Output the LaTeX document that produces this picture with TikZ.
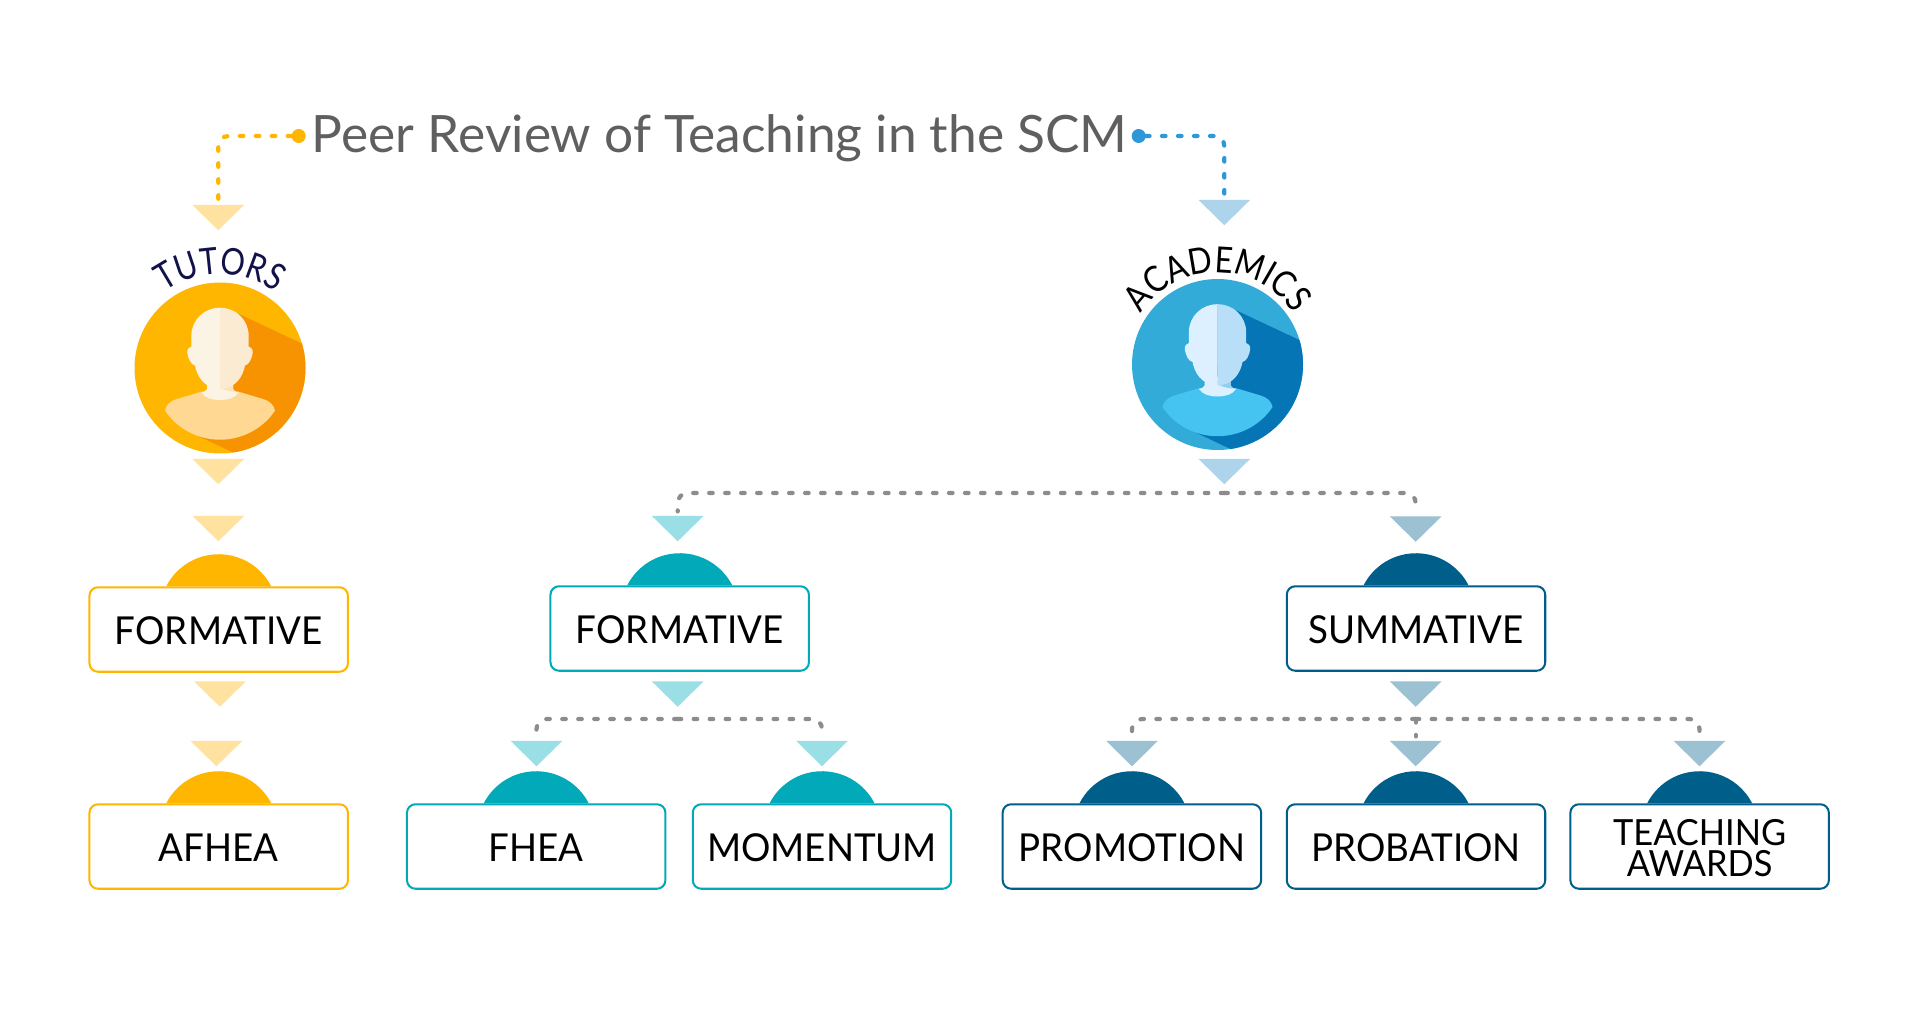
\documentclass[tikz,border=0pt]{standalone}
\usepackage{fontspec}
\setmainfont{Lato}
\newfontfamily\arcfont[FakeStretch=0.83]{Lato}
\newfontfamily\arcfontb[FakeStretch=0.87]{Lato}
\newfontfamily\boxfont[FakeStretch=0.955]{Lato}
\usetikzlibrary{decorations.text,calc}
\definecolor{ymain}{HTML}{FFB600}
\definecolor{ytri}{HTML}{FFE2A0}
\definecolor{tmain}{HTML}{02A9B8}
\definecolor{ttri}{HTML}{9ADFE5}
\definecolor{nmain}{HTML}{005F8A}
\definecolor{ntri}{HTML}{9BC1D3}
\definecolor{btri}{HTML}{AED4EC}
\definecolor{bdot}{HTML}{2E97D8}
\definecolor{gdot}{HTML}{8C8C8C}
\definecolor{titlec}{HTML}{5F5F5F}
\definecolor{navytxt}{HTML}{12124A}
\definecolor{bshad}{HTML}{0675B5}
\definecolor{bcirc}{HTML}{33ABD9}
\definecolor{bshirt}{HTML}{45C4F2}
\definecolor{bfl}{HTML}{DCF0FF}
\definecolor{bfr}{HTML}{B8DFF7}
\definecolor{bneck}{HTML}{8ED0F5}
\definecolor{yshad}{HTML}{F79200}
\definecolor{yshirt}{HTML}{FFD994}
\definecolor{yfl}{HTML}{FBF3E3}
\definecolor{yfr}{HTML}{FBEBD2}
\definecolor{yneck}{HTML}{FBE3BE}
\tikzset{
  x=0.02cm,y=-0.02cm,
  tri/.style={inner sep=0pt,minimum width=1.04cm,minimum height=0.51cm,
    path picture={\fill[#1] (path picture bounding box.north west) -- (path picture bounding box.north east) -- (path picture bounding box.south) -- cycle;}},
  boxn/.style={draw=#1,line width=1.15pt,rounded corners=0.17cm,fill=white,minimum width=5.17cm,minimum height=1.69cm,inner sep=0pt,align=center,font=\boxfont\fontsize{21.9pt}{24pt}\selectfont,text=black},
  dots/.style={draw=#1,line width=2.4pt,line cap=round,dash pattern=on 2pt off 7.1pt,rounded corners=0.2cm,shorten >=0.08cm},
  dotn/.style={circle,fill=#1,inner sep=0pt,minimum size=0.28cm},
  circn/.style={circle,fill=#1,inner sep=0pt,minimum size=3.42cm},
  arctxt/.style={decorate,decoration={text along path,text align=center,text={#1}}},
}
\newcommand\boxtext[1]{\rule{0pt}{17.5pt}#1}
% dome on top of a box: #1 box, #2 colour
\newcommand\domeon[2]{\fill[#2] ($(#1.north)+(1.05cm,0pt)$) arc[start angle=27.2,end angle=152.8,radius=1.18cm] -- cycle;}
% person: #1 circle node #2 shadow #3 shirt #4 face left #5 face right #6 neck shadow
\newcommand\personfig[6]{%
\begin{scope}[shift={(#1.center)},y=0.02cm]
  \begin{scope}
    \clip (0,0) circle[radius=85.5];
    \fill[#2] (18.3,54.3) -- (100,16) -- (100,-100) -- (30,-92.4) -- (-22,-68) -- cycle;
  \end{scope}
  \fill[#3] (-18,-23.5) -- (-43,-31) .. controls (-50,-33) and (-54,-37) .. (-55,-42.5)
     .. controls (-45,-58) and (-25,-71.7) .. (0,-71.7)
     .. controls (25,-71.7) and (45,-58) .. (55,-42.5)
     .. controls (54,-37) and (50,-33) .. (43,-31) -- (18,-23.5) -- cycle;
  \fill[#4] (-13,-12) -- (-13,-21) .. controls (-14,-23) and (-16,-24) .. (-18.5,-24.5)
     .. controls (-15,-30) and (-8,-32) .. (0,-32)
     .. controls (8,-32) and (15,-30) .. (18.5,-24.5)
     .. controls (16,-24) and (14,-23) .. (13,-21) -- (13,-12) -- cycle;
  \fill[#6] (0,-15) -- (13,-12) -- (13,-21) .. controls (13.5,-22.5) and (15,-23.5) .. (17,-24) .. controls (10,-24) and (5,-22) .. (0,-20) -- cycle;
  \fill[#4] (0,60.3) .. controls (-16,60.3) and (-28.7,48) .. (-28.7,32) -- (-28.7,21.5)
     .. controls (-31,21) and (-33,19) .. (-32.7,15) .. controls (-32,10) and (-29,3) .. (-25,2.5)
     .. controls (-23,-8) and (-16,-20.7) .. (0,-20.7) -- cycle;
  \fill[#5] (0,60.3) .. controls (16,60.3) and (28.7,48) .. (28.7,32) -- (28.7,21.5)
     .. controls (31,21) and (33,19) .. (32.7,15) .. controls (32,10) and (29,3) .. (25,2.5)
     .. controls (23,-8) and (16,-20.7) .. (0,-20.7) -- cycle;
\end{scope}}
\begin{document}
\begin{tikzpicture}
\useasboundingbox[fill=white] (0,0) rectangle (1920,1010);

% title
\node[text=titlec,inner sep=0pt,font=\fontsize{29.3pt}{32pt}\selectfont] (title) at (719.7,138) {Peer Review of Teaching in the SCM};
\node[dotn=ymain] (doty) at (298.7,136) {};
\node[dotn=bdot] (dotb) at (1138.7,136) {};

% top triangles
\node[tri=ytri] (ty1) at (218.3,217.5) {};
\node[tri=btri] (tb1) at (1224.3,212.5) {};
\draw[dots=ymain] (doty) -| (ty1.north);
\draw[dots=bdot] (dotb) -| (tb1.north);

% person circles
\node[circn=ymain] (ctut) at (220,368) {};
\node[circn=bcirc] (caca) at (1217.5,364.5) {};
\personfig{ctut}{yshad}{yshirt}{yfl}{yfr}{yneck}
\personfig{caca}{bshad}{bshirt}{bfl}{bfr}{bneck}
\path[arctxt={|\arcfont\fontsize{21pt}{22pt}\selectfont\color{navytxt}|TUTORS}] ($(ctut.center)+(146:1.88cm)$) arc[start angle=146,end angle=34,radius=1.88cm];
\path[arctxt={|\arcfontb\fontsize{20.5pt}{22pt}\selectfont\color{black}|ACADEMICS}] ($(caca.center)+(150:1.84cm)$) arc[start angle=150,end angle=30,radius=1.84cm];

% triangles below circles
\node[tri=ytri] (ty2) at (218.3,471.5) {};
\node[tri=btri] (tb2) at (1224.3,471.5) {};

% second level
\node[tri=ytri] (ty3) at (218.4,528.5) {};
\node[tri=ttri] (tt1) at (677.7,528.5) {};
\node[tri=ntri] (tn1) at (1415.7,529) {};
\coordinate (ja) at (1224.3,493);
\draw[dots=gdot] (ja) -| (tt1.north);
\draw[dots=gdot] (ja) -| (tn1.north);

\node[boxn=ymain] (bform1) at (218.7,629.5) {\boxtext{FORMATIVE}};
\node[boxn=tmain] (bform2) at (679.7,628.5) {\boxtext{FORMATIVE}};
\node[boxn=nmain] (bsum) at (1416,628.5) {\boxtext{SUMMATIVE}};
\domeon{bform1}{ymain}
\domeon{bform2}{tmain}
\domeon{bsum}{nmain}

\node[tri=ytri] (ty4) at (219.9,694) {};
\node[tri=ttri] (tt2) at (677.7,694) {};
\node[tri=ntri] (tn2) at (1415.7,694) {};

% third level
\node[tri=ytri] (ty5) at (216.4,753.5) {};
\node[tri=ttri] (tt3) at (536.5,753.5) {};
\node[tri=ttri] (tt4) at (822,753.5) {};
\node[tri=ntri] (tn3) at (1132,753.5) {};
\node[tri=ntri] (tn4) at (1415.7,753.5) {};
\node[tri=ntri] (tn5) at (1699.5,753.5) {};
\coordinate (jt) at (677.7,719);
\coordinate (jn) at (1415.7,719);
\draw[dots=gdot] (jt) -| (tt3.north);
\draw[dots=gdot] (jt) -| (tt4.north);
\draw[dots=gdot] (jn) -| (tn3.north);
\draw[dots=gdot] (jn) -| (tn5.north);
\draw[dots=gdot] (jn) -- (tn4.north);

\node[boxn=ymain] (bafhea) at (218.7,846.5) {\boxtext{AFHEA}};
\node[boxn=tmain] (bfhea) at (536.2,846.5) {\boxtext{FHEA}};
\node[boxn=tmain] (bmom) at (822,846.5) {\boxtext{MOMENTUM}};
\node[boxn=nmain] (bpro) at (1131.9,846.5) {\boxtext{PROMOTION}};
\node[boxn=nmain] (bprob) at (1416,846.5) {\boxtext{PROBATION}};
\node[boxn=nmain,font=\boxfont\fontsize{20.5pt}{17.6pt}\selectfont] (bteach) at (1699.6,846.5) {\rule{0pt}{16.2pt}TEACHING\\AWARDS};
\domeon{bafhea}{ymain}
\domeon{bfhea}{tmain}
\domeon{bmom}{tmain}
\domeon{bpro}{nmain}
\domeon{bprob}{nmain}
\domeon{bteach}{nmain}
\end{tikzpicture}
\end{document}
